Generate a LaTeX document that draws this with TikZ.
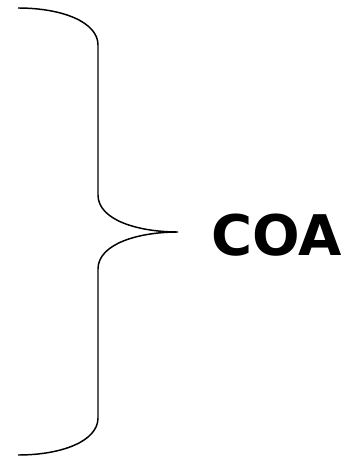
\documentclass[tikz,border=0pt]{standalone}
\usepackage{fontspec}
\setsansfont{DejaVu Sans}
\usetikzlibrary{calc}

\begin{document}
\begin{tikzpicture}[x=0.75pt,y=-0.75pt]
      \useasboundingbox (0,0) rectangle (347,456);
      \coordinate (top) at (18,8);
      \coordinate (tip) at (178,232);
      \coordinate (bot) at (18,455);
      % the brace
      \draw[line width=1.1pt] (top) .. controls (62,8) and (98,22) .. (98,45)
            -- (98,195) .. controls (98,220) and (138,232) .. (tip)
            .. controls (138,232) and (98,244) .. (98,269)
            -- (98,418) .. controls (98,441) and (62,455) .. (bot);
      \node[anchor=base west,inner sep=0pt,font=\sffamily\bfseries\fontsize{42}{50}\selectfont]
            (coa) at (211,255) {COA};
    \end{tikzpicture}
\end{document}
